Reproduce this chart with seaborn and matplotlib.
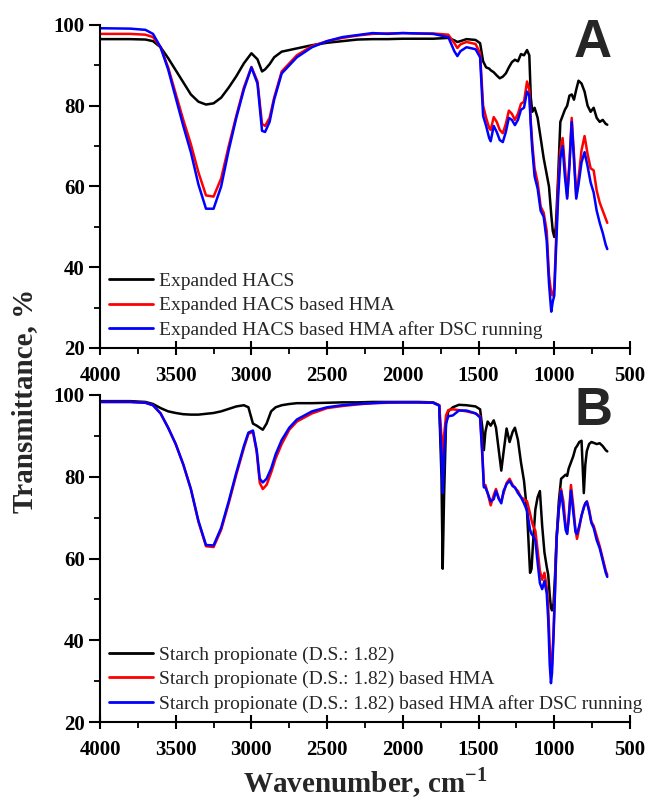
import numpy as np
import pandas as pd
import matplotlib
matplotlib.use("Agg")
import matplotlib.pyplot as plt
import seaborn as sns
from matplotlib.ticker import MultipleLocator

# ---------------- data ----------------
wn_A = [4000, 3800, 3700, 3650, 3600, 3550, 3500, 3450, 3400, 3350, 3300, 3250, 3200,
        3150, 3100, 3050, 3000, 2960, 2930, 2910, 2880, 2850, 2800, 2700, 2600, 2500,
        2400, 2300, 2200, 2100, 2000, 1900, 1800, 1700, 1660, 1640, 1620, 1580, 1520,
        1490, 1470, 1450, 1430, 1420, 1400, 1380, 1360, 1340, 1320, 1300, 1280, 1260,
        1240, 1220, 1200, 1180, 1165, 1155, 1145, 1130, 1110, 1090, 1070, 1050, 1035,
        1020, 1010, 1000, 990, 975, 960, 945, 930, 915, 900, 885, 870, 855, 840, 820,
        800, 780, 760, 740, 720, 700, 680, 660, 650]

hacs = [96.5, 96.5, 96.4, 96.0, 94.5, 91.8, 88.8, 85.8, 82.8, 81.0, 80.3, 80.6, 82.0,
        84.5, 87.3, 90.5, 93.0, 91.5, 88.5, 89.0, 90.3, 92.0, 93.4, 94.2, 95.0, 95.6,
        96.0, 96.4, 96.5, 96.5, 96.6, 96.6, 96.6, 96.8, 96.2, 95.8, 96.0, 96.5, 96.3,
        95.5, 91.0, 89.5, 89.2, 88.8, 88.3, 87.5, 86.8, 87.2, 88.0, 89.5, 90.8, 91.4,
        91.0, 92.8, 92.5, 93.8, 92.5, 82.0, 78.5, 79.5, 77.0, 72.0, 67.0, 63.0, 60.0,
        53.0, 49.0, 47.5, 50.0, 62.0, 76.0, 77.5, 79.0, 80.0, 82.5, 82.8, 81.5, 84.0,
        86.2, 85.5, 83.5, 80.0, 78.5, 79.5, 77.0, 76.0, 76.5, 75.5, 75.3]

hacs_hma = [97.8, 97.8, 97.6, 97.0, 94.5, 89.5, 83.0, 76.5, 70.5, 63.5, 57.8, 57.5, 62.0,
            70.0, 77.5, 84.5, 89.6, 86.0, 75.5, 75.0, 77.0, 82.0, 88.5, 92.5, 94.8, 96.0,
            96.8, 97.4, 97.8, 97.9, 98.0, 97.9, 97.9, 97.6, 95.5, 94.3, 95.2, 95.8, 95.3,
            93.0, 80.0, 77.0, 74.5, 74.0, 77.2, 76.0, 74.0, 73.2, 75.5, 78.8, 78.0, 76.5,
            78.0, 80.5, 81.0, 86.0, 84.0, 76.0, 70.5, 64.5, 61.0, 55.0, 53.5, 49.0, 38.0,
            33.5, 33.0, 35.0, 45.0, 60.0, 69.0, 72.0, 65.0, 57.5, 66.0, 77.0, 68.0, 57.5,
            62.0, 69.0, 72.5, 68.0, 64.5, 64.0, 59.0, 56.0, 54.0, 52.0, 51.0]

hacs_hma_dsc = [99.2, 99.1, 98.8, 97.8, 94.5, 89.0, 82.0, 75.0, 68.5, 60.5, 54.5, 54.5, 60.0,
                69.0, 77.0, 84.0, 89.5, 85.5, 73.8, 73.5, 76.0, 81.5, 88.0, 92.0, 94.5, 96.0,
                97.0, 97.5, 98.0, 97.8, 98.0, 97.9, 97.8, 97.0, 93.5, 92.3, 93.5, 94.5, 94.0,
                92.0, 77.5, 75.0, 72.0, 71.2, 75.0, 73.5, 71.5, 71.0, 73.5, 77.0, 76.5, 75.2,
                76.5, 79.0, 79.5, 83.5, 82.5, 75.0, 69.0, 62.5, 59.5, 54.0, 52.5, 46.5, 36.0,
                29.0, 31.5, 33.0, 43.0, 57.0, 67.0, 70.0, 62.5, 57.0, 65.0, 76.0, 66.5, 57.0,
                60.5, 66.0, 68.5, 65.0, 61.0, 58.5, 54.0, 51.0, 48.5, 45.5, 44.5]

wn_B = [4000, 3800, 3700, 3650, 3600, 3550, 3500, 3450, 3400, 3350, 3300, 3250, 3200,
        3150, 3100, 3050, 3020, 2990, 2965, 2945, 2925, 2900, 2870, 2840, 2800, 2750,
        2700, 2600, 2500, 2400, 2300, 2200, 2100, 2000, 1900, 1800, 1760, 1745, 1737,
        1728, 1715, 1700, 1670, 1630, 1580, 1520, 1490, 1475, 1465, 1455, 1440, 1420,
        1400, 1385, 1365, 1350, 1335, 1315, 1295, 1275, 1260, 1240, 1220, 1200, 1180,
        1160, 1150, 1140, 1125, 1110, 1095, 1080, 1065, 1050, 1040, 1030, 1022, 1015,
        1005, 995, 985, 970, 955, 940, 925, 915, 905, 890, 875, 860, 850, 835, 820,
        805, 795, 785, 770, 755, 740, 720, 700, 680, 660, 650]

sp = [98.5, 98.5, 98.3, 97.8, 96.8, 96.0, 95.6, 95.3, 95.2, 95.2, 95.4, 95.6, 96.0,
      96.6, 97.2, 97.5, 97.0, 93.0, 92.5, 92.0, 91.5, 93.0, 96.0, 97.0, 97.5, 97.8,
      98.0, 98.0, 98.1, 98.2, 98.2, 98.3, 98.3, 98.3, 98.3, 98.2, 97.5, 80.0, 57.5,
      75.0, 93.0, 96.0, 97.0, 97.6, 97.5, 97.2, 96.5, 92.0, 86.5, 91.0, 93.5, 92.5,
      93.8, 92.0, 86.0, 81.5, 86.0, 91.8, 88.5, 91.0, 92.0, 89.0, 83.5, 79.0, 71.5,
      56.5, 57.5, 64.0, 72.0, 75.0, 76.5, 68.0, 61.5, 58.0, 56.0, 51.0, 48.0, 47.3,
      49.0, 56.0, 65.0, 74.0, 79.5, 80.0, 80.5, 80.2, 82.0, 83.5, 85.0, 87.0, 87.5,
      88.5, 88.8, 76.0, 83.0, 86.3, 88.0, 88.5, 88.3, 88.0, 88.2, 87.5, 86.5, 86.2]

sp_hma = [98.3, 98.3, 98.1, 97.5, 95.5, 92.0, 88.0, 83.0, 77.0, 69.0, 63.0, 62.8, 67.0,
          73.5, 80.5, 87.0, 90.5, 91.0, 86.0, 78.5, 77.0, 78.0, 81.0, 84.5, 88.0, 91.5,
          93.5, 95.5, 96.8, 97.3, 97.7, 98.0, 98.1, 98.2, 98.2, 98.1, 97.5, 90.0, 84.0,
          90.0, 95.0, 96.3, 96.5, 96.3, 96.0, 95.5, 94.8, 86.0, 77.8, 78.0, 76.0, 73.0,
          75.5, 77.0, 74.5, 74.0, 76.0, 78.5, 79.5, 78.0, 77.3, 76.5, 75.0, 74.5, 74.0,
          71.0, 69.3, 68.0, 66.8, 62.0, 57.0, 54.8, 56.5, 53.0, 48.0, 38.0, 32.0, 34.0,
          42.0, 53.0, 65.0, 72.0, 77.0, 74.0, 68.0, 66.5, 70.0, 78.0, 73.0, 67.0, 64.8,
          67.5, 70.5, 72.5, 73.5, 74.0, 72.0, 69.0, 68.0, 65.5, 63.0, 60.0, 57.0, 56.0]

sp_hma_dsc = [98.3, 98.3, 98.1, 97.5, 95.5, 92.0, 88.0, 83.0, 77.0, 69.2, 63.3, 63.2, 67.5,
              74.0, 81.0, 87.5, 90.8, 91.3, 86.5, 79.5, 78.6, 79.5, 82.0, 85.5, 89.0, 92.0,
              94.0, 96.0, 97.0, 97.5, 97.8, 98.0, 98.2, 98.2, 98.2, 98.1, 97.4, 85.0, 76.0,
              85.0, 93.0, 94.8, 95.0, 96.2, 96.2, 95.5, 94.5, 85.0, 77.4, 77.4, 76.0, 74.0,
              74.5, 76.5, 74.5, 73.5, 76.5, 78.2, 79.0, 77.7, 77.4, 76.0, 75.0, 73.5, 71.7,
              67.0, 66.0, 65.5, 64.4, 59.0, 54.0, 52.5, 54.5, 51.5, 45.0, 34.0, 29.5, 32.0,
              41.0, 52.0, 64.5, 72.0, 76.5, 72.0, 67.0, 66.0, 69.5, 76.6, 71.5, 66.5, 66.0,
              68.0, 70.5, 72.5, 73.5, 73.9, 71.5, 68.7, 67.5, 64.5, 62.5, 59.5, 56.5, 55.5]

labels_A = ["Expanded HACS", "Expanded HACS based HMA",
            "Expanded HACS based HMA after DSC running"]
labels_B = ["Starch propionate (D.S.: 1.82)",
            "Starch propionate (D.S.: 1.82) based HMA",
            "Starch propionate (D.S.: 1.82) based HMA after DSC running"]
colors = ["black", "red", "blue"]
x_ticks = [4000, 3500, 3000, 2500, 2000, 1500, 1000, 500]
y_ticks = [20, 40, 60, 80, 100]

# ---------------- style ----------------
sns.set_theme(style="ticks")
plt.rcParams['font.family'] = ['Liberation Serif', 'DejaVu Serif']
plt.rcParams['mathtext.fontset'] = 'custom'
plt.rcParams['mathtext.rm'] = 'Liberation Serif'
plt.rcParams['mathtext.bf'] = 'Liberation Serif:bold'

W, H = 649, 801
fig = plt.figure(figsize=(W / 100, H / 100), dpi=100)
axA = fig.add_axes([100 / W, 1 - 348 / H, 530 / W, 323 / H])
axB = fig.add_axes([100 / W, 1 - 722 / H, 530 / W, 327 / H])


def draw(ax, wn, series, labels):
    frames = []
    for s, lab in zip(series, labels):
        frames.append(pd.DataFrame({"wn": wn, "T": s, "sample": lab}))
    df = pd.concat(frames, ignore_index=True)
    sns.lineplot(data=df, x="wn", y="T", hue="sample", hue_order=labels,
                 palette=dict(zip(labels, colors)), estimator=None, sort=False,
                 linewidth=1.8, ax=ax)
    ax.set_xlim(4000, 500)
    ax.set_ylim(20, 100)
    ax.set_xticks(x_ticks)
    ax.set_yticks(y_ticks)
    ax.xaxis.set_minor_locator(MultipleLocator(250))
    ax.yaxis.set_minor_locator(MultipleLocator(10))
    ax.set_xlabel("")
    ax.set_ylabel("")
    for side in ["top", "right"]:
        ax.spines[side].set_visible(False)
    for side in ["left", "bottom"]:
        ax.spines[side].set_linewidth(1.5)
        ax.spines[side].set_color("black")
    ax.tick_params(axis="y", which="major", direction="out", length=8, width=1.5,
                   colors="black", labelsize=15, pad=3)
    ax.tick_params(axis="y", which="minor", direction="out", length=4, width=1.3,
                   colors="black")
    ax.tick_params(axis="x", which="major", direction="inout", length=10, width=1.5,
                   colors="black", labelsize=15, pad=8)
    ax.tick_params(axis="x", which="minor", direction="out", length=4, width=1.3,
                   colors="black")
    for t in ax.get_xticklabels() + ax.get_yticklabels():
        t.set_fontweight("bold")
    leg = ax.legend(loc="lower left", bbox_to_anchor=(0.0, 0.0), frameon=False,
                    fontsize=14, handlelength=2.3, handletextpad=0.3,
                    labelspacing=0.36, borderaxespad=0.25, borderpad=0.2)
    for line in leg.get_lines():
        line.set_linewidth(2.0)


draw(axA, wn_A, [hacs, hacs_hma, hacs_hma_dsc], labels_A)
draw(axB, wn_B, [sp, sp_hma, sp_hma_dsc], labels_B)

axB.set_xlabel(r"Wavenumber, cm$^{\mathbf{-1}}$", fontsize=21, fontweight="bold", labelpad=4)
fig.text(0.038, 0.5, "Transmittance, %", rotation=90, fontsize=21, fontweight="bold",
         ha="center", va="center")

fig.text(612 / W, 1 - 57 / H, "A", fontsize=38, fontweight="bold",
         family="Liberation Sans", ha="right", va="baseline")
fig.text(613 / W, 1 - 425 / H, "B", fontsize=38, fontweight="bold",
         family="Liberation Sans", ha="right", va="baseline")

fig.savefig("out.png", dpi=100)
